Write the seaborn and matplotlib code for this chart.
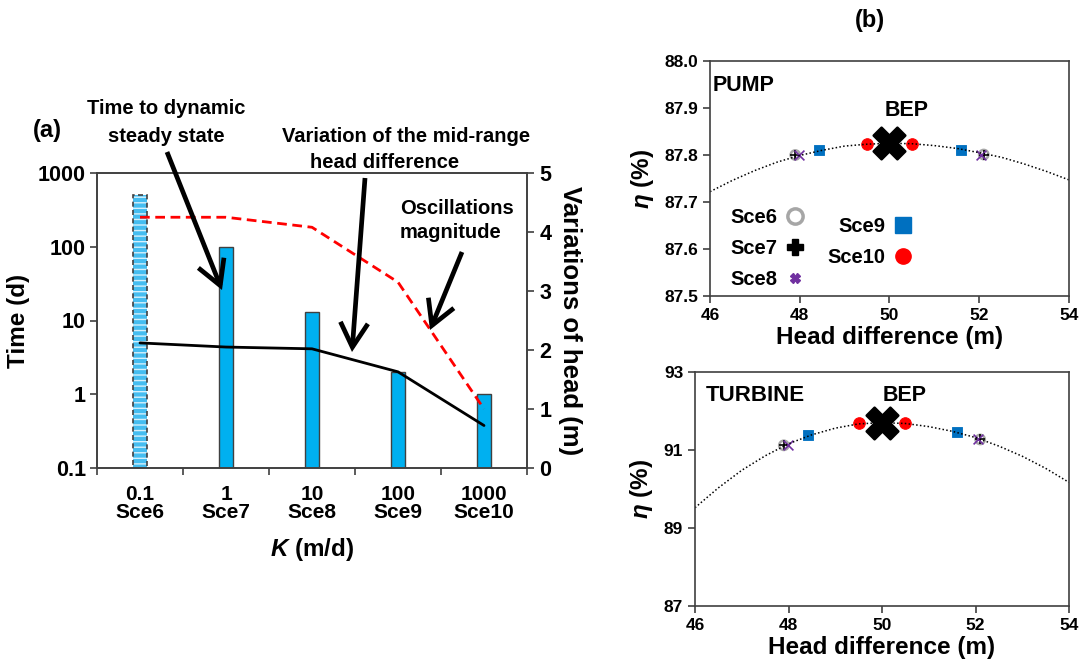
import numpy as np
import pandas as pd
import matplotlib
matplotlib.use("Agg")
import matplotlib.pyplot as plt
from matplotlib.lines import Line2D
import seaborn as sns

# ---- data ----
k_labels = ["0.1\nSce6", "1\nSce7", "10\nSce8", "100\nSce9", "1000\nSce10"]
time_days = [500, 100, 13, 2, 1]
osc_magnitude = [4.25, 4.25, 4.08, 3.15, 1.0]
midrange_var = [2.12, 2.05, 2.02, 1.63, 0.72]

curve_x = [46, 46.5, 47, 47.5, 48, 48.5, 49, 49.5, 50,
           50.5, 51, 51.5, 52, 52.5, 53, 53.5, 54]
pump_curve = [87.722, 87.746, 87.767, 87.785, 87.799, 87.810, 87.819, 87.823,
              87.825, 87.824, 87.820, 87.814, 87.805, 87.795, 87.781, 87.765,
              87.747]
turb_curve = [89.52, 90.03, 90.48, 90.85, 91.16, 91.39, 91.56, 91.67, 91.70,
              91.68, 91.60, 91.48, 91.32, 91.10, 90.84, 90.53, 90.17]

bep_x = [50.0]
pump_bep = [87.825]
turb_bep = [91.70]

sce6_x = [47.9, 52.1]
sce7_x = [47.9, 52.1]
sce8_x = [47.98, 52.05]
sce9_x = [48.42, 51.6]
sce10_x = [49.5, 50.5]

pump_sce6 = [87.800, 87.801]
pump_sce7 = [87.800, 87.801]
pump_sce8 = [87.799, 87.801]
pump_sce9 = [87.810, 87.810]
pump_sce10 = [87.823, 87.823]

turb_sce6 = [91.12, 91.27]
turb_sce7 = [91.12, 91.27]
turb_sce8 = [91.14, 91.28]
turb_sce9 = [91.39, 91.46]
turb_sce10 = [91.69, 91.69]

# ---- style ----
sns.set_theme(style="white")
plt.rcParams["font.family"] = ["Liberation Sans", "DejaVu Sans"]
plt.rcParams["font.weight"] = "bold"
plt.rcParams["axes.labelweight"] = "bold"
for key in ["text.color", "axes.labelcolor", "xtick.color", "ytick.color"]:
    plt.rcParams[key] = "black"
plt.rcParams["mathtext.fontset"] = "custom"
plt.rcParams["mathtext.it"] = "Liberation Sans:italic:bold"
plt.rcParams["mathtext.rm"] = "Liberation Sans:bold"
plt.rcParams["hatch.linewidth"] = 1.0

W, H = 1085, 665
fig = plt.figure(figsize=(W / 100, H / 100), dpi=100)


def box(x0, y0, x1, y1):
    # image pixel box -> figure fraction rect
    return [x0 / W, 1 - y1 / H, (x1 - x0) / W, (y1 - y0) / H]


def px(x, y):
    return (x, H - y)


spine_col = "#404040"

# ================= panel (a) =================
ax = fig.add_axes(box(97, 173, 527, 468))
sns.barplot(x=k_labels, y=time_days, ax=ax, width=0.17, color="#00b0f0",
            saturation=1, edgecolor=spine_col, linewidth=1)
ax.set_yscale("log")
ax.set_ylim(0.1, 1000)
ax.set_xlim(-0.5, 4.5)

# first bar: hatched light blue with dashed outline
p0 = ax.patches[0]
p0.set_facecolor("#45bdf0")
p0.set_edgecolor("#d6f1fc")
p0.set_hatch("---")
p0.set_linewidth(0)
ax.bar([0], time_days[:1], width=0.17, fill=False, edgecolor=spine_col,
       linestyle=(0, (3, 2)), linewidth=1.2)

ax.set_yticks([0.1, 1, 10, 100, 1000])
ax.set_yticklabels(["0.1", "1", "10", "100", "1000"])
ax.yaxis.set_minor_locator(matplotlib.ticker.NullLocator())
ax.set_xticks([-0.5, 0.5, 1.5, 2.5, 3.5, 4.5])
ax.set_xticklabels([])
ax.set_xticks(range(5), minor=True)
ax.set_xticklabels(k_labels, minor=True, fontsize=15, linespacing=0.95)
ax.tick_params(axis="x", which="minor", length=0, pad=12)
ax.tick_params(axis="x", which="major", direction="out", length=5, width=1.2,
               color=spine_col, bottom=True)
ax.tick_params(axis="y", direction="out", length=5, width=1.2, color=spine_col,
               labelsize=15.5, left=True, pad=3)
ax.set_ylabel("Time (d)", fontsize=17.5, labelpad=6)
ax.set_xlabel("$K$ (m/d)", fontsize=17.5, labelpad=10)
for s in ax.spines.values():
    s.set_color(spine_col)
    s.set_linewidth(1.2)

ax2 = ax.twinx()
sns.lineplot(x=list(range(5)), y=osc_magnitude, ax=ax2, color="red",
             linewidth=2, linestyle=(0, (3.5, 2)))
sns.lineplot(x=list(range(5)), y=midrange_var, ax=ax2, color="black",
             linewidth=2)
ax2.set_ylim(0, 5)
ax2.set_yticks(range(6))
ax2.tick_params(axis="y", direction="out", length=5, width=1.2,
                color=spine_col, labelsize=15.5, right=True, pad=4)
ax2.set_ylabel("Variations of head (m)", fontsize=18.5, rotation=270,
               labelpad=22)
for s in ax2.spines.values():
    s.set_color(spine_col)
    s.set_linewidth(1.2)

fig.text(47 / W, 1 - 130 / H, "(a)", fontsize=17, ha="center", va="center")
fig.text(166 / W, 1 - 109 / H, "Time to dynamic", fontsize=14.5,
         ha="center", va="center")
fig.text(166 / W, 1 - 136 / H, "steady state", fontsize=14.5,
         ha="center", va="center")
fig.text(282 / W, 1 - 137 / H, "Variation of the mid-range", fontsize=14.5,
         ha="left", va="center")
fig.text(310 / W, 1 - 162 / H, "head difference", fontsize=14.5,
         ha="left", va="center")
fig.text(400 / W, 1 - 208 / H, "Oscillations", fontsize=14.5,
         ha="left", va="center")
fig.text(400 / W, 1 - 232 / H, "magnitude", fontsize=14.5,
         ha="left", va="center")

for start, end in [((167, 152), (222, 290)), ((365, 178), (352, 352)),
                   ((462, 252), (430, 330))]:
    fig.add_artist(matplotlib.patches.FancyArrowPatch(
        px(*start), px(*end), transform=None,
        arrowstyle="->,head_length=0.8,head_width=0.45", mutation_scale=22,
        color="black", lw=3.4, shrinkA=0, shrinkB=0, joinstyle="miter",
        capstyle="butt"))

# ================= panel (b) =================
c6, c7, c8, c9, c10 = "#a6a6a6", "black", "#7030a0", "#0070c0", "red"


def eff_panel(axb, curve, bep, s6, s7, s8, s9, s10):
    sns.lineplot(x=curve_x, y=curve, ax=axb, color="black", linewidth=1.1,
                 linestyle=(0, (1, 1.5)))
    sns.scatterplot(x=sce6_x, y=s6, ax=axb, marker="o", s=45,
                    facecolors="none", edgecolors=c6, linewidths=1.8)
    sns.scatterplot(x=sce7_x, y=s7, ax=axb, marker="+", s=45, color=c7,
                    linewidths=1.2)
    sns.scatterplot(x=sce8_x, y=s8, ax=axb, marker="x", s=50, color=c8,
                    linewidths=1.2)
    sns.scatterplot(x=sce9_x, y=s9, ax=axb, marker="s", s=60, color=c9,
                    edgecolor=c9)
    sns.scatterplot(x=sce10_x, y=s10, ax=axb, marker="o", s=70, color=c10,
                    edgecolor=c10)
    sns.scatterplot(x=bep_x, y=bep, ax=axb, marker="X", s=520, color="black",
                    edgecolor="black")
    axb.set_xlim(46, 54)
    axb.set_xticks([46, 48, 50, 52, 54])
    axb.tick_params(direction="out", length=5, width=1.2, color=spine_col,
                    labelsize=12.5, left=True, bottom=True)
    axb.set_xlabel("Head difference (m)", fontsize=17.5, labelpad=2)
    axb.set_ylabel(r"$\eta$ (%)", fontsize=17.5, labelpad=6)
    for s in axb.spines.values():
        s.set_color(spine_col)
        s.set_linewidth(1.2)


axp = fig.add_axes(box(710, 61, 1069, 296))
eff_panel(axp, pump_curve, pump_bep, pump_sce6, pump_sce7, pump_sce8,
          pump_sce9, pump_sce10)
axp.set_ylim(87.5, 88.0)
axp.set_yticks(np.arange(87.5, 88.01, 0.1))
axp.yaxis.set_major_formatter(matplotlib.ticker.FormatStrFormatter("%.1f"))
axp.text(0.008, 0.895, "PUMP", transform=axp.transAxes, fontsize=15.5,
         ha="left", va="center")
axp.text(0.548, 0.79, "BEP", transform=axp.transAxes, fontsize=15.5,
         ha="center", va="center")

h6 = Line2D([], [], ls="none", marker="o", ms=11, mfc="none", mec=c6, mew=2.5)
h7 = Line2D([], [], ls="none", marker="P", ms=11, color=c7)
h8 = Line2D([], [], ls="none", marker="X", ms=7, color=c8)
h9 = Line2D([], [], ls="none", marker="s", ms=11, color=c9)
h10 = Line2D([], [], ls="none", marker="o", ms=11, color=c10)
leg_kw = dict(frameon=False, markerfirst=False, fontsize=14.5, handlelength=1.0,
              handletextpad=0.35, borderaxespad=0, loc="upper left")
leg1 = axp.legend([h6, h7, h8], ["Sce6", "Sce7", "Sce8"],
                  bbox_to_anchor=(0.035, 0.41), labelspacing=0.6, **leg_kw)
axp.add_artist(leg1)
axp.legend([h9, h10], ["Sce9", "Sce10"], bbox_to_anchor=(0.305, 0.37),
           labelspacing=0.6, **leg_kw)

axt = fig.add_axes(box(695, 372, 1069, 606))
eff_panel(axt, turb_curve, turb_bep, turb_sce6, turb_sce7, turb_sce8,
          turb_sce9, turb_sce10)
axt.set_ylim(87, 93)
axt.set_yticks([87, 89, 91, 93])
axt.text(0.03, 0.90, "TURBINE", transform=axt.transAxes, fontsize=16,
         ha="left", va="center")
axt.text(0.56, 0.90, "BEP", transform=axt.transAxes, fontsize=15.5,
         ha="center", va="center")

fig.text(870 / W, 1 - 20 / H, "(b)", fontsize=17, ha="center", va="center")

fig.savefig("out.png", dpi=100)
